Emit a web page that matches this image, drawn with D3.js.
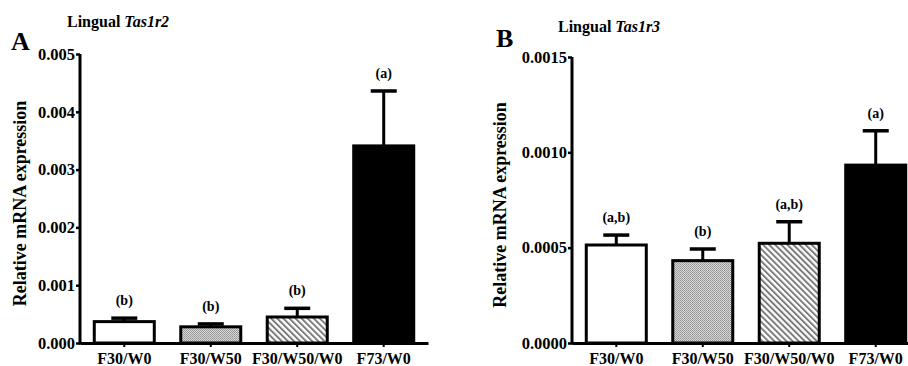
<!DOCTYPE html>
<html>
<head>
<meta charset="utf-8">
<script src="https://cdn.jsdelivr.net/npm/d3@7"></script>
<style>
  body { margin: 0; background: #fff; }
  svg { display: block; }
</style>
</head>
<body>
<div id="chart"></div>
<script>
// groups on the x axis
const groups = ["F30/W0", "F30/W50", "F30/W50/W0", "F73/W0"];

// panel A: lingual Tas1r2
const tas1r2Mean = [0.00037, 0.00028, 0.00045, 0.00341];
const tas1r2Err = [0.00006, 0.00005, 0.00015, 0.00095];
const tas1r2Sig = ["(b)", "(b)", "(b)", "(a)"];
const tas1r2Ticks = [0, 0.001, 0.002, 0.003, 0.004, 0.005];

// panel B: lingual Tas1r3
const tas1r3Mean = [0.000514, 0.000432, 0.000523, 0.000933];
const tas1r3Err = [0.000052, 0.000061, 0.000113, 0.00018];
const tas1r3Sig = ["(a,b)", "(b)", "(a,b)", "(a)"];
const tas1r3Ticks = [0, 0.0005, 0.001, 0.0015];

const width = 908, height = 366;
const font = "'Liberation Serif', 'Times New Roman', serif";

const svg = d3.select("#chart").append("svg")
    .attr("width", width)
    .attr("height", height)
    .attr("viewBox", `0 0 ${width} ${height}`);

// fill patterns: fine grey checker and diagonal hatching
const defs = svg.append("defs");
const dots = defs.append("pattern")
    .attr("id", "dots")
    .attr("width", 2).attr("height", 2)
    .attr("patternUnits", "userSpaceOnUse");
dots.append("rect").attr("width", 2).attr("height", 2).attr("fill", "#d8d8d8");
dots.append("rect").attr("width", 1).attr("height", 1).attr("fill", "#929292");
dots.append("rect").attr("x", 1).attr("y", 1).attr("width", 1).attr("height", 1).attr("fill", "#a0a0a0");

const hatch = defs.append("pattern")
    .attr("id", "hatch")
    .attr("width", 4.3).attr("height", 4.3)
    .attr("patternUnits", "userSpaceOnUse")
    .attr("patternTransform", "rotate(-45)");
hatch.append("rect").attr("width", 4.3).attr("height", 4.3).attr("fill", "#fff");
hatch.append("line")
    .attr("x1", 1).attr("y1", 0).attr("x2", 1).attr("y2", 4.3)
    .attr("stroke", "#777").attr("stroke-width", 1.9);

const fills = ["#fff", "url(#dots)", "url(#hatch)", "#000"];

const panels = [
    {
        letter: "A", letterX: 11, letterY: 50,
        title: "Tas1r2", titleX: 67, titleY: 27,
        labelX: 22,
        xRange: [80, 428], yRange: [343, 54],
        domain: [0, 0.005], ticks: tas1r2Ticks, fmt: d3.format(".3f"),
        mean: tas1r2Mean, err: tas1r2Err, sig: tas1r2Sig
    },
    {
        letter: "B", letterX: 496, letterY: 47,
        title: "Tas1r3", titleX: 558, titleY: 32,
        labelX: 502,
        xRange: [572, 920], yRange: [343, 57],
        domain: [0, 0.0015], ticks: tas1r3Ticks, fmt: d3.format(".4f"),
        mean: tas1r3Mean, err: tas1r3Err, sig: tas1r3Sig
    }
];

panels.forEach(p => {
    const g = svg.append("g");

    const x = d3.scaleBand()
        .domain(groups)
        .range(p.xRange)
        .paddingInner(0.306)
        .paddingOuter(0.165);
    const y = d3.scaleLinear().domain(p.domain).range(p.yRange);

    // panel letter and title
    g.append("text")
        .attr("x", p.letterX).attr("y", p.letterY)
        .attr("font-family", font).attr("font-weight", "bold")
        .attr("font-size", 26)
        .text(p.letter);

    const t = g.append("text")
        .attr("x", p.titleX).attr("y", p.titleY)
        .attr("font-family", font).attr("font-weight", "bold")
        .attr("font-size", 16);
    t.append("tspan").text("Lingual ");
    t.append("tspan").attr("font-style", "italic").text(p.title);

    // y axis label
    g.append("text")
        .attr("transform", `translate(${p.labelX},${(p.yRange[0] + p.yRange[1]) / 2 + 5}) rotate(-90)`)
        .attr("text-anchor", "middle")
        .attr("dominant-baseline", "middle")
        .attr("font-family", font).attr("font-weight", "bold")
        .attr("font-size", 18)
        .text("Relative mRNA expression");

    // bars
    const bars = g.append("g");
    groups.forEach((grp, i) => {
        const m = p.mean[i], e = p.err[i];
        const cx = x(grp) + x.bandwidth() / 2;

        // error bar (upper only)
        bars.append("line")
            .attr("x1", cx).attr("x2", cx)
            .attr("y1", y(m)).attr("y2", y(m + e))
            .attr("stroke", "#000").attr("stroke-width", 3);
        bars.append("line")
            .attr("x1", cx - 13).attr("x2", cx + 13)
            .attr("y1", y(m + e)).attr("y2", y(m + e))
            .attr("stroke", "#000").attr("stroke-width", 3.5);

        bars.append("rect")
            .attr("x", x(grp))
            .attr("y", y(m))
            .attr("width", x.bandwidth())
            .attr("height", y(0) - y(m))
            .attr("fill", fills[i])
            .attr("stroke", "#000")
            .attr("stroke-width", 3);

        // significance letters
        bars.append("text")
            .attr("x", cx)
            .attr("y", y(m + e) - 13)
            .attr("text-anchor", "middle")
            .attr("font-family", font).attr("font-weight", "bold")
            .attr("font-size", 14)
            .text(p.sig[i]);
    });

    // axes
    const yAxis = g.append("g")
        .attr("transform", `translate(${p.xRange[0]},0)`)
        .call(d3.axisLeft(y).tickValues(p.ticks).tickFormat(p.fmt)
            .tickSize(4).tickSizeOuter(0).tickPadding(1));
    yAxis.select(".domain").attr("stroke-width", 3).attr("d", `M0,${p.yRange[0] + 1.5}V${p.yRange[1]}`);
    yAxis.selectAll(".tick line").attr("stroke-width", 2.5);
    yAxis.selectAll("text")
        .attr("font-family", font).attr("font-weight", "bold")
        .attr("font-size", 16.5).attr("fill", "#000");

    const xAxis = g.append("g")
        .attr("transform", `translate(0,${p.yRange[0]})`)
        .call(d3.axisBottom(x).tickSize(4).tickSizeOuter(0).tickPadding(6));
    xAxis.select(".domain").attr("stroke-width", 3);
    xAxis.selectAll(".tick line").attr("stroke-width", 2);
    xAxis.selectAll("text")
        .attr("font-family", font).attr("font-weight", "bold")
        .attr("font-size", 16).attr("fill", "#000");
});
</script>
</body>
</html>
